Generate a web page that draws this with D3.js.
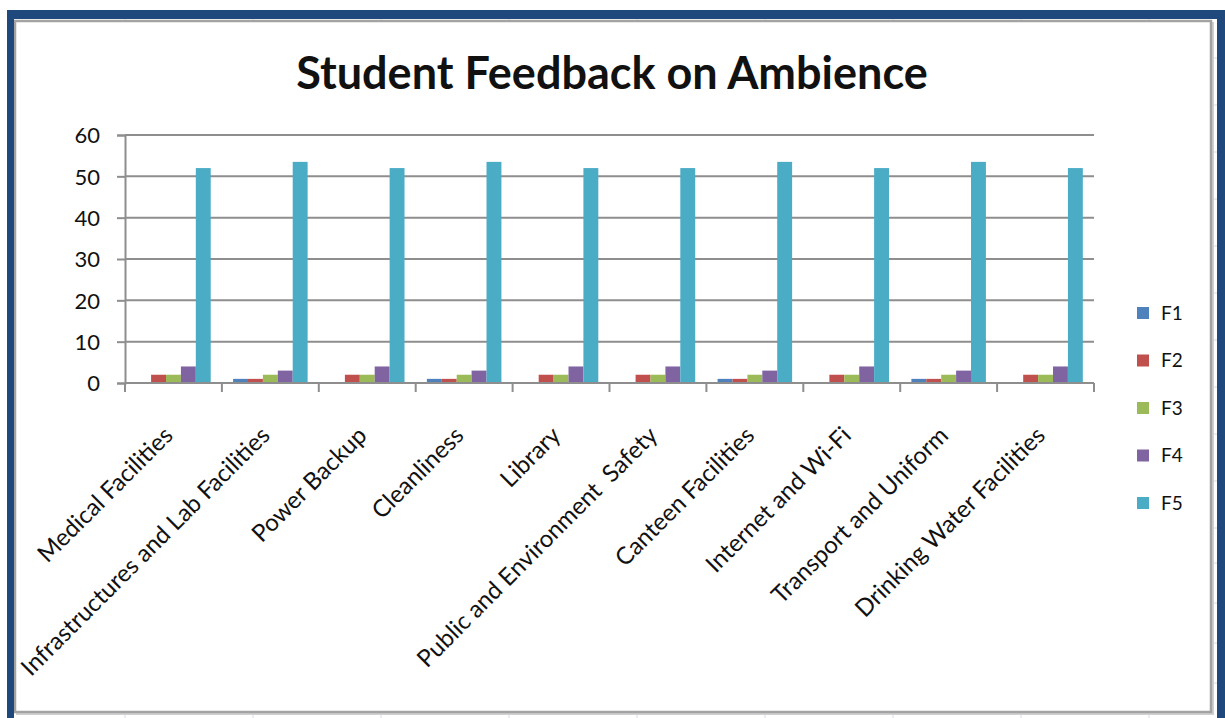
<!DOCTYPE html>
<html>
<head>
<meta charset="utf-8">
<script src="https://cdn.jsdelivr.net/npm/d3@7"></script>
<style>
  html, body { margin: 0; padding: 0; background: #fff; }
  svg { display: block; }
  text { font-family: Lato, "Open Sans", sans-serif; fill: #111; }
</style>
</head>
<body>
<svg id="chart" width="1225" height="718"></svg>
<script>
// Survey categories and the count of responses for each feedback level
const categories = [
  "Medical Facilities",
  "Infrastructures and Lab Facilities",
  "Power Backup",
  "Cleanliness",
  "Library",
  "Public and Environment  Safety",
  "Canteen Facilities",
  "Internet and Wi-Fi",
  "Transport and Uniform",
  "Drinking Water Facilities"
];
const seriesNames = ["F1", "F2", "F3", "F4", "F5"];
const F1 = [0, 1, 0, 1, 0, 0, 1, 0, 1, 0];
const F2 = [2, 1, 2, 1, 2, 2, 1, 2, 1, 2];
const F3 = [2, 2, 2, 2, 2, 2, 2, 2, 2, 2];
const F4 = [4, 3, 4, 3, 4, 4, 3, 4, 3, 4];
const F5 = [52, 53.5, 52, 53.5, 52, 52, 53.5, 52, 53.5, 52];
const yTicks = [0, 10, 20, 30, 40, 50, 60];
const seriesColors = ["#4F81BD", "#C0504D", "#9BBB59", "#8064A2", "#4BACC6"];
const titleText = "Student Feedback on Ambience";

const seriesValues = [F1, F2, F3, F4, F5];

const W = 1225, H = 718;
const svg = d3.select("#chart");

// ---- worksheet backdrop and window frame ----
const sheetGrid = "#d6deea";
const frameBlue = "#1F497D";
const colLines = d3.range(125, 1225, 128);
const rowLines = [58, 105, 152, 199, 246, 293, 340, 387, 434, 481, 528, 563, 603, 643, 683];

svg.append("rect").attr("x", 0).attr("y", 0).attr("width", W).attr("height", H).attr("fill", "#fff");
const sheet = svg.append("g");
sheet.selectAll("line.col").data(colLines).join("line")
  .attr("x1", d => d).attr("x2", d => d).attr("y1", 0).attr("y2", H)
  .attr("stroke", sheetGrid).attr("stroke-width", 1);
sheet.selectAll("line.row").data(rowLines).join("line")
  .attr("x1", 0).attr("x2", W).attr("y1", d => d).attr("y2", d => d)
  .attr("stroke", sheetGrid).attr("stroke-width", 1);

// chart object area (white, grey outline)
const box = { x: 15, y: 21, w: 1196, h: 691 };
svg.append("rect")
  .attr("x", box.x + 2).attr("y", box.y + 2).attr("width", box.w).attr("height", box.h)
  .attr("fill", "none").attr("stroke", "#d0d0d0").attr("stroke-width", 2);
svg.append("rect")
  .attr("x", box.x).attr("y", box.y).attr("width", box.w).attr("height", box.h)
  .attr("fill", "#fff").attr("stroke", "#a3a3a3").attr("stroke-width", 2.5);

// blue window frame
svg.append("rect").attr("x", 0).attr("y", 0).attr("width", W).attr("height", 10).attr("fill", "#fff");
svg.append("rect").attr("x", 0).attr("y", 0).attr("width", 7).attr("height", H).attr("fill", "#fff");
svg.append("rect").attr("x", 7).attr("y", 10).attr("width", W - 7).attr("height", 9).attr("fill", frameBlue);
svg.append("rect").attr("x", 7).attr("y", 10).attr("width", 7).attr("height", H).attr("fill", frameBlue);
svg.append("rect").attr("x", 1217).attr("y", 10).attr("width", 8).attr("height", H).attr("fill", frameBlue);

// ---- plot ----
const plot = { left: 125, right: 1094, top: 135, bottom: 383 };

const x0 = d3.scaleBand().domain(categories).range([plot.left, plot.right]).padding(0);
const x1 = d3.scaleBand().domain(seriesNames).range([0, x0.bandwidth()])
  .paddingInner(0).paddingOuter(0.75);
const y = d3.scaleLinear().domain([0, 60]).range([plot.bottom, plot.top]);

const gridColor = "#8e8e8e";

// horizontal gridlines
svg.append("g").selectAll("line").data(yTicks.filter(d => d > 0)).join("line")
  .attr("x1", plot.left).attr("x2", plot.right)
  .attr("y1", d => y(d)).attr("y2", d => y(d))
  .attr("stroke", gridColor).attr("stroke-width", 2);

// y axis
const yAxis = d3.axisLeft(y).tickValues(yTicks).tickSize(8).tickPadding(17);
const gy = svg.append("g").attr("transform", `translate(${plot.left},0)`).call(yAxis);
gy.select(".domain").attr("stroke", gridColor).attr("stroke-width", 2);
gy.selectAll(".tick line").attr("stroke", gridColor).attr("stroke-width", 2);
gy.selectAll(".tick text")
  .style("font-family", "Lato, sans-serif").style("font-size", "22px")
  .attr("fill", "#111").attr("dy", "0.36em");

// bars
const groups = svg.append("g").selectAll("g").data(categories).join("g")
  .attr("transform", d => `translate(${x0(d)},0)`);
groups.selectAll("rect")
  .data((c, i) => seriesNames.map((s, k) => ({ s, k, v: seriesValues[k][i] })))
  .join("rect")
  .attr("x", d => x1(d.s))
  .attr("width", x1.bandwidth())
  .attr("y", d => y(d.v))
  .attr("height", d => y(0) - y(d.v))
  .attr("fill", d => seriesColors[d.k]);

// x axis with tick marks at category boundaries
const boundaries = categories.map(c => x0(c)).concat([plot.right]);
svg.append("line")
  .attr("x1", plot.left).attr("x2", plot.right)
  .attr("y1", y(0)).attr("y2", y(0))
  .attr("stroke", gridColor).attr("stroke-width", 2);
svg.append("g").selectAll("line").data(boundaries).join("line")
  .attr("x1", d => d).attr("x2", d => d)
  .attr("y1", y(0)).attr("y2", y(0) + 9)
  .attr("stroke", gridColor).attr("stroke-width", 2);

// rotated category labels
svg.append("g").selectAll("text").data(categories).join("text")
  .attr("transform", d => `translate(${x0(d) + x0.bandwidth() / 2 - 5},${plot.bottom + 48}) rotate(-45)`)
  .attr("text-anchor", "end")
  .attr("dy", "0.35em")
  .style("font-size", "24px")
  .style("white-space", "pre")
  .text(d => d);

// title
svg.append("text")
  .attr("x", 612).attr("y", 89)
  .attr("text-anchor", "middle")
  .style("font-size", "45px").style("font-weight", "bold")
  .attr("fill", "#000")
  .text(titleText);

// legend
const legend = svg.append("g").selectAll("g").data(seriesNames).join("g")
  .attr("transform", (d, i) => `translate(1137,${313 + i * 47.5})`);
legend.append("rect")
  .attr("x", 0).attr("y", -6).attr("width", 12).attr("height", 12)
  .attr("fill", (d, i) => seriesColors[i]);
legend.append("text")
  .attr("x", 24).attr("dy", "0.36em")
  .style("font-size", "19px")
  .text(d => d);
</script>
</body>
</html>
